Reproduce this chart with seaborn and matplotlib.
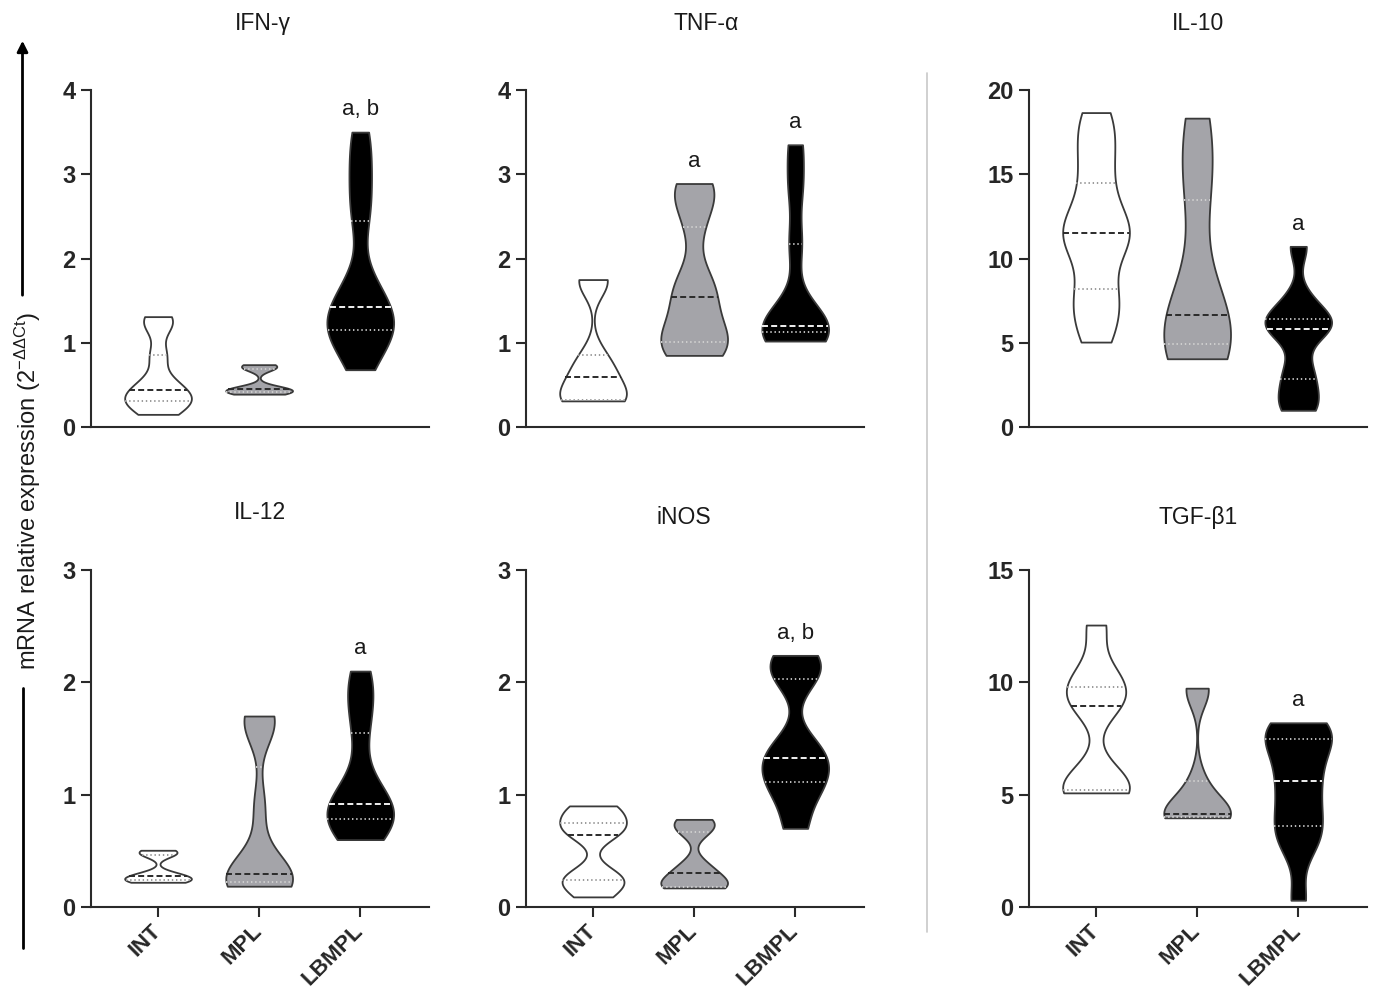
import numpy as np
import pandas as pd
import matplotlib
matplotlib.use("Agg")
import matplotlib.pyplot as plt
import seaborn as sns
from matplotlib.lines import Line2D
from matplotlib.patches import FancyArrowPatch

# ---------------- data ----------------
groups = ["INT", "MPL", "LBMPL"]

ifng_int = [0.15, 0.27, 0.31, 0.36, 0.44, 0.55, 0.85, 1.20, 1.31]
ifng_mpl = [0.39, 0.41, 0.42, 0.44, 0.45, 0.47, 0.69, 0.72, 0.74]
ifng_lbmpl = [0.68, 0.95, 1.08, 1.15, 1.22, 1.30, 1.42, 1.55, 1.75, 2.45, 2.80, 3.15, 3.50]

tnfa_int = [0.31, 0.31, 0.32, 0.40, 0.59, 0.68, 0.85, 1.72, 1.75]
tnfa_mpl = [0.85, 0.90, 0.96, 1.01, 1.15, 1.30, 1.54, 1.62, 1.80, 2.37, 2.70, 2.82, 2.89]
tnfa_lbmpl = [1.02, 1.08, 1.13, 1.17, 1.20, 1.40, 2.17, 2.85, 3.35]

il10_int = [5.04, 6.30, 7.50, 8.20, 10.30, 11.00, 11.52, 12.00, 12.90, 14.50, 16.00, 17.40, 18.66]
il10_mpl = [4.05, 4.40, 4.90, 5.60, 6.66, 8.50, 13.50, 16.00, 18.33]
il10_lbmpl = [0.99, 1.50, 2.60, 3.60, 5.70, 5.96, 6.20, 6.50, 7.60, 10.72]

il12_int = [0.22, 0.23, 0.24, 0.26, 0.28, 0.30, 0.46, 0.49, 0.505]
il12_mpl = [0.185, 0.19, 0.20, 0.24, 0.27, 0.29, 0.45, 0.90, 1.60, 1.66, 1.70]
il12_lbmpl = [0.60, 0.68, 0.74, 0.78, 0.83, 0.88, 0.92, 0.98, 1.15, 1.55, 1.78, 1.95, 2.10]

inos_int = [0.09, 0.20, 0.24, 0.30, 0.64, 0.70, 0.75, 0.85, 0.90]
inos_mpl = [0.17, 0.175, 0.18, 0.25, 0.30, 0.38, 0.67, 0.74, 0.78]
inos_lbmpl = [0.70, 1.00, 1.11, 1.25, 1.33, 1.45, 2.03, 2.15, 2.24]

tgfb1_int = [5.08, 5.15, 5.20, 6.00, 8.93, 9.30, 9.80, 10.50, 12.55]
tgfb1_mpl = [3.97, 3.98, 4.00, 4.10, 4.16, 4.60, 5.60, 9.60, 9.74]
tgfb1_lbmpl = [0.30, 2.50, 3.20, 3.60, 4.30, 5.00, 5.63, 6.30, 6.90, 7.46, 7.80, 8.05, 8.20]

panel_titles = ["IFN-γ", "TNF-α", "IL-10", "IL-12", "iNOS", "TGF-β1"]
panel_data = [
    [ifng_int, ifng_mpl, ifng_lbmpl],
    [tnfa_int, tnfa_mpl, tnfa_lbmpl],
    [il10_int, il10_mpl, il10_lbmpl],
    [il12_int, il12_mpl, il12_lbmpl],
    [inos_int, inos_mpl, inos_lbmpl],
    [tgfb1_int, tgfb1_mpl, tgfb1_lbmpl],
]
panel_yticks = [
    [0, 1, 2, 3, 4],
    [0, 1, 2, 3, 4],
    [0, 5, 10, 15, 20],
    [0, 1, 2, 3],
    [0, 1, 2, 3],
    [0, 5, 10, 15],
]
panel_letters = [
    {2: "a, b"},
    {1: "a", 2: "a"},
    {2: "a"},
    {2: "a"},
    {2: "a, b"},
    {2: "a"},
]

# kernel smoothing per violin (style)
panel_bw = [
    [0.5, 0.5, 0.55],
    [0.5, 0.55, 0.5],
    [0.55, 0.75, 0.5],
    [0.5, 0.5, 0.7],
    [0.5, 0.5, 0.5],
    [0.5, 0.5, 0.6],
]

# ---------------- style ----------------
sns.set_style("ticks")
plt.rcParams["font.family"] = ["Liberation Sans", "DejaVu Sans"]
plt.rcParams["mathtext.fontset"] = "custom"
plt.rcParams["mathtext.rm"] = "Liberation Sans"
plt.rcParams["mathtext.it"] = "Liberation Sans:italic"
plt.rcParams["mathtext.bf"] = "Liberation Sans:bold"
plt.rcParams["mathtext.default"] = "regular"
plt.rcParams["lines.scale_dashes"] = False

fill_colors = {"INT": "#ffffff", "MPL": "#a4a4a9", "LBMPL": "#000000"}
median_colors = {"INT": "#2a2a2a", "MPL": "#2a2a2a", "LBMPL": "#f0f0f0"}
quart_colors = {"INT": "#9a9a9a", "MPL": "#cfcfcf", "LBMPL": "#bdbdbd"}
edge = "#3a3a3a"

fig = plt.figure(figsize=(13.73, 9.92), dpi=100)
W, H = 1373.0, 992.0

col_left = [91, 526, 1029]
col_w = 338
row_top = [90, 570]
row_h = 337

title_x = [0.509, 0.534, 0.5, 0.5, 0.466, 0.5]
title_y = [1.196, 1.196, 1.196, 1.172, 1.157, 1.157]

for i in range(6):
    r, c = divmod(i, 3)
    left = col_left[c] / W
    bottom = 1 - (row_top[r] + row_h) / H
    ax = fig.add_axes([left, bottom, col_w / W, row_h / H])

    recs = []
    for g, vals in zip(groups, panel_data[i]):
        for v in vals:
            recs.append((g, v))
    df = pd.DataFrame(recs, columns=["group", "value"])

    for gi, g in enumerate(groups):
        sub = df[df["group"] == g]
        n_before = len(ax.lines)
        sns.violinplot(
            data=sub, x="group", y="value", order=groups, ax=ax,
            color=fill_colors[g], saturation=1, linecolor=edge, linewidth=1.3,
            cut=0, density_norm="width", width=0.66, inner="quart",
            bw_adjust=panel_bw[i][gi], inner_kws=dict(linewidth=1.4),
        )
        new_lines = ax.lines[n_before:]
        for k, ln in enumerate(new_lines):
            if k == 1:
                ln.set_color(median_colors[g])
                ln.set_dashes((4.3, 2.3))
            else:
                ln.set_color(quart_colors[g])
                ln.set_dashes((1.0, 2.0))

    yt = panel_yticks[i]
    ax.set_ylim(0, yt[-1])
    ax.set_yticks(yt)
    ax.set_xlim(-0.663, 2.68)
    ax.set_xlabel("")
    ax.set_ylabel("")
    sns.despine(ax=ax)
    for sp in ["left", "bottom"]:
        ax.spines[sp].set_linewidth(1.5)
        ax.spines[sp].set_color("#2a2a2a")
    ax.tick_params(axis="y", length=7, width=1.5, color="#2a2a2a", pad=4,
                   labelsize=17)
    for lab in ax.get_yticklabels():
        lab.set_fontweight("bold")

    if r == 0:
        ax.set_xticks([])
    else:
        ax.set_xticks([0, 1, 2])
        ax.set_xticklabels(groups, rotation=45, ha="right", va="center",
                           rotation_mode="anchor", fontsize=16,
                           fontweight="bold")
        ax.tick_params(axis="x", length=7, width=1.5, color="#2a2a2a", pad=8)

    ax.text(title_x[i], title_y[i], panel_titles[i], transform=ax.transAxes,
            ha="center", va="center", fontsize=16.5, color="#1a1a1a")

    for gi, txt in panel_letters[i].items():
        top = max(panel_data[i][gi])
        ax.annotate(txt, xy=(gi, top), xytext=(0, 16),
                    textcoords="offset points", ha="center", va="center",
                    fontsize=16, color="#1a1a1a")

# shared y label with arrow
fig.text(28 / W, 1 - 491 / H,
         r"mRNA relative expression (2$^{-\Delta\Delta Ct}$)",
         rotation=90, ha="center", va="center", fontsize=17, color="#1a1a1a")
xl = 22.5 / W
fig.add_artist(FancyArrowPatch((xl, 1 - 298 / H), (xl, 1 - 38 / H),
                               transform=fig.transFigure, arrowstyle="-|>",
                               mutation_scale=16, lw=2, color="black"))
fig.add_artist(Line2D([xl, xl], [1 - 948 / H, 1 - 688 / H],
                      transform=fig.transFigure, lw=2, color="black"))

# separator
fig.add_artist(Line2D([927 / W, 927 / W], [1 - 932 / H, 1 - 73 / H],
                      transform=fig.transFigure, lw=1.2, color="#c8c8c8"))

fig.savefig("out.png", dpi=100, facecolor="white")
